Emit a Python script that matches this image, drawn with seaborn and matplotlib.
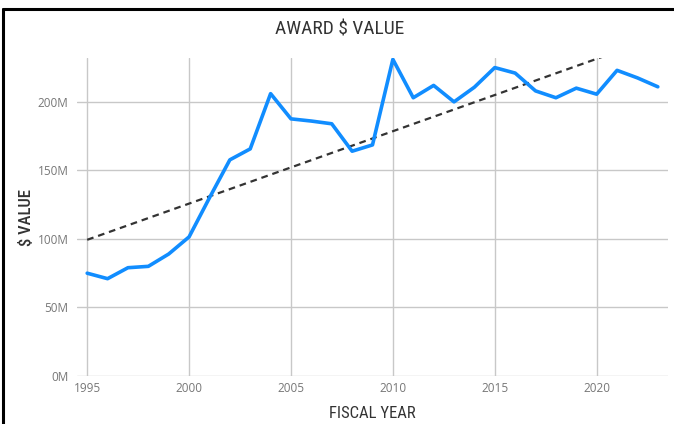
import matplotlib
matplotlib.use("Agg")
import matplotlib.pyplot as plt
import seaborn as sns
import pandas as pd

years = list(range(1995, 2024))
values_m = [75, 71, 79, 80, 89, 101.5, 130, 157.7, 165.7, 206, 187.6, 186, 184,
            164, 168.6, 231, 203, 212, 200, 210.7, 225, 221, 208, 203, 210,
            205.6, 223, 217.5, 211]
x_ticks = [1995, 2000, 2005, 2010, 2015, 2020]
y_ticks = [0, 50, 100, 150, 200]
y_tick_labels = ["0M", "50M", "100M", "150M", "200M"]

df = pd.DataFrame({"year": years, "value": values_m})

sns.set_theme(style="white")
plt.rcParams["font.family"] = ["Open Sans", "DejaVu Sans"]
cond = ["Roboto Condensed", "Roboto", "DejaVu Sans"]

fig = plt.figure(figsize=(6.74, 4.24), dpi=100)
ax = fig.add_axes([77 / 674, 48 / 424, (668 - 77) / 674, (376 - 58) / 424])

sns.regplot(data=df, x="year", y="value", scatter=False, ci=None, ax=ax,
            line_kws=dict(color="#333333", lw=1.6, linestyle=(0, (3, 2.2)), zorder=3))
sns.lineplot(data=df, x="year", y="value", ax=ax, color="#118DFF", lw=2.6, zorder=4)

ax.set_xlim(1994.5, 2023.5)
ax.set_ylim(0, 232)
ax.set_xticks(x_ticks)
ax.set_yticks(y_ticks)
ax.set_yticklabels(y_tick_labels)
ax.grid(True, color="#c8c8c8", lw=1)
ax.set_axisbelow(True)
for s in ax.spines.values():
    s.set_visible(False)
ax.tick_params(axis="both", length=0, labelsize=8.5, labelcolor="#777777", pad=6)
ax.tick_params(axis="x", pad=4)

ax.set_xlabel("FISCAL YEAR", fontsize=12, color="#333333", labelpad=8, family=cond)
ax.set_ylabel("$ VALUE", fontsize=12, color="#333333", labelpad=3, family=cond,
              fontweight="medium")

fig.text(340 / 674, 1 - 30 / 424, "AWARD $ VALUE", ha="center", va="center",
         fontsize=14, color="#333333", family=cond)

# frame border lines (top and left)
fig.add_artist(plt.Line2D([3 / 674, 1], [1 - 9 / 424, 1 - 9 / 424], color="black", lw=2.2,
                          transform=fig.transFigure))
fig.add_artist(plt.Line2D([3 / 674, 3 / 674], [0, 1 - 9 / 424], color="black", lw=2.2,
                          transform=fig.transFigure))

fig.savefig("out.png", dpi=100)
